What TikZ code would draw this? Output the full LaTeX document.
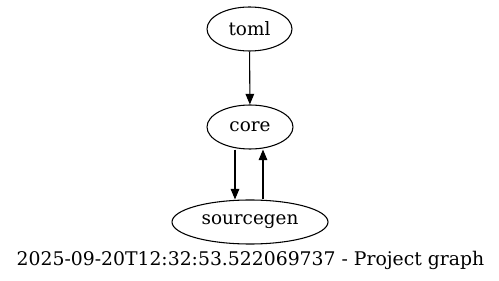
\documentclass[tikz,border=0pt]{standalone}
\usepackage{fontspec}
\setmainfont{DejaVu Serif}
\usetikzlibrary{shapes.geometric,arrows.meta}
\begin{document}
\begin{tikzpicture}[x=0.75pt,y=-0.75pt,
  pkg/.style={draw,ellipse,line width=0.8pt,inner sep=0pt,
    minimum height=44*0.75pt,font=\fontsize{13.8}{16}\selectfont},
  dep/.style={-{Triangle[length=8pt,width=6.5pt]},line width=0.8pt}]
\useasboundingbox (0,0) rectangle (499,281);
\node[pkg,minimum width=85*0.75pt] (toml) at (249.5,29) {toml};
\node[pkg,minimum width=86*0.75pt] (core) at (250,127) {core};
\node[pkg,minimum width=156*0.75pt] (sourcegen) at (250,222) {sourcegen};
\draw[dep] (toml) -- (core);
\draw[dep] (core.south -| 235,0) -- (sourcegen.north -| 235,0);
\draw[dep] (sourcegen.north -| 263,0) -- (core.south -| 263,0);
\node[font=\fontsize{14.1}{16}\selectfont,anchor=base,inner sep=0pt] (title) at (250.5,265) {2025-09-20T12:32:53.522069737 - Project graph};
\end{tikzpicture}
\end{document}
